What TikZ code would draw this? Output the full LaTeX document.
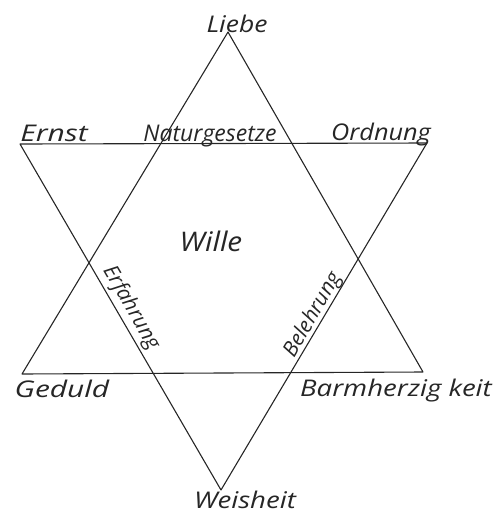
\documentclass[tikz,border=0pt]{standalone}
\usepackage{fontspec}
\setmainfont{Open Sans}
\begin{document}
\begin{tikzpicture}[x=1pt,y=-1pt,
  edge/.style={draw=black!85, line width=1.1pt, line join=round, line cap=round},
  lbl/.style={font=\fontsize{23}{26}\selectfont\itshape, text=black!85, inner sep=0pt, anchor=base},
  rlbl/.style={font=\fontsize{21}{24}\selectfont\itshape, text=black!85, inner sep=0pt},
  biglbl/.style={font=\fontsize{27}{30}\selectfont\itshape, text=black!85, inner sep=0pt, anchor=base}]
\useasboundingbox (0,0) rectangle (498,515);
% vertices of the two triangles
\coordinate (L) at (228,32);
\coordinate (G) at (22,374);
\coordinate (B) at (423,372);
\coordinate (E) at (20,144);
\coordinate (O) at (427,143);
\coordinate (W) at (221,490);
% triangles
\draw[edge] (L) -- (G) -- (B) -- cycle;
\draw[edge] (E) -- (O) -- (W) -- cycle;
% labels
\node[lbl, xscale=1.15] (liebe) at (237,32) {Liebe};
\node[lbl, xscale=1.3] (ernst) at (54,141) {Ernst};
\node[lbl] (natur) at (210,141) {Naturgesetze};
\node[lbl, xscale=1.1] (ordn) at (381,140) {Ordnung};
\node[biglbl, xscale=1.1] (wille) at (211,251) {Wille};
\node[rlbl, rotate=-60] (erf) at (131,308) {Erfahrung};
\node[rlbl, rotate=60] (bel) at (313,315) {Belehrung};
\node[lbl, xscale=1.3] (ged) at (62,397) {Geduld};
\node[lbl, xscale=1.2] (barm) at (396,396) {Barmherzig keit};
\node[lbl, xscale=1.2] (weis) at (245,508) {Weisheit};
\end{tikzpicture}
\end{document}
